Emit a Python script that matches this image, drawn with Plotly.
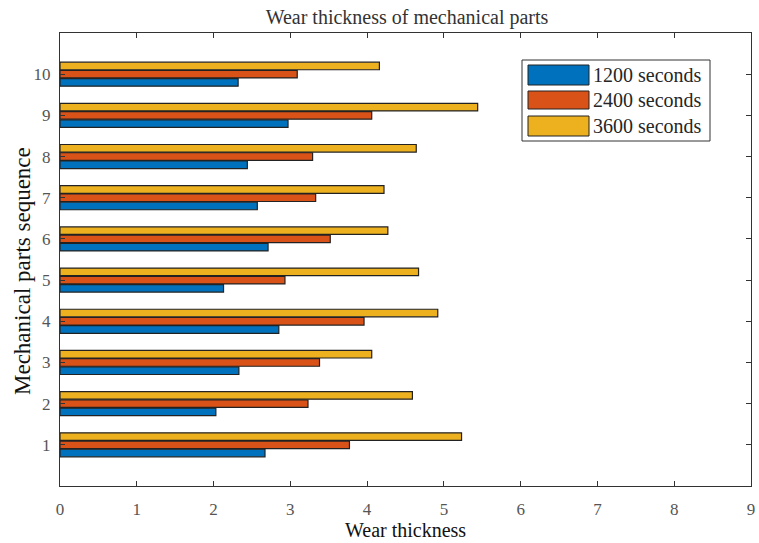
import plotly.graph_objects as go

parts = [1, 2, 3, 4, 5, 6, 7, 8, 9, 10]
s1200 = [2.67, 2.03, 2.33, 2.85, 2.13, 2.71, 2.57, 2.44, 2.97, 2.32]
s2400 = [3.77, 3.23, 3.38, 3.96, 2.93, 3.52, 3.33, 3.29, 4.06, 3.09]
s3600 = [5.23, 4.59, 4.06, 4.92, 4.67, 4.27, 4.22, 4.64, 5.44, 4.16]
names = ["1200 seconds", "2400 seconds", "3600 seconds"]
colors = ["#0072BD", "#D95319", "#EDB120"]

font = "Liberation Serif, Times New Roman, serif"
W, H = 759, 543
L, R, T, B = 60, 8, 33, 57
PW, PH = W - L - R, H - T - B


def px(x):
    return (x - L) / PW


def py(y):
    return (H - B - y) / PH


fig = go.Figure()
for name, vals, c in zip(names, [s1200, s2400, s3600], colors):
    fig.add_trace(go.Bar(
        y=parts, x=vals, name=name, orientation="h",
        marker=dict(color=c, line=dict(color="#222222", width=1.2)),
    ))

# legend drawn as a boxed key like the original
shapes = [dict(type="rect", xref="paper", yref="paper",
               x0=px(522), x1=px(710), y0=py(141), y1=py(60),
               line=dict(color="#333333", width=1), fillcolor="white", layer="above")]
annotations = []
rows = [(65, 85), (91, 109), (116, 136)]
for (y0, y1), name, c in zip(rows, names, colors):
    shapes.append(dict(type="rect", xref="paper", yref="paper",
                       x0=px(528), x1=px(589), y0=py(y1), y1=py(y0),
                       line=dict(color="#222222", width=1), fillcolor=c, layer="above"))
    annotations.append(dict(text=name, xref="paper", yref="paper",
                            x=px(591), y=py((y0 + y1) / 2), xanchor="left", yanchor="middle",
                            showarrow=False, font=dict(family=font, size=20, color="#262626")))

annotations.append(dict(text="Wear thickness", xref="paper", yref="paper",
                        x=px(405), y=py(530), xanchor="center", yanchor="middle",
                        showarrow=False, font=dict(family=font, size=20, color="#111111")))
annotations.append(dict(text="Mechanical parts sequence", xref="paper", yref="paper",
                        x=px(22), y=py(271), xanchor="center", yanchor="middle", textangle=-90,
                        showarrow=False, font=dict(family=font, size=23, color="#111111")))

fig.update_layout(
    width=W, height=H,
    margin=dict(l=L, r=R, t=T, b=B, autoexpand=False),
    paper_bgcolor="white", plot_bgcolor="white",
    barmode="group", bargap=0.4, bargroupgap=0.08,
    title=dict(text="Wear thickness of mechanical parts", x=px(407), xref="paper",
               xanchor="center", y=(H - 17) / H, yanchor="middle",
               font=dict(family=font, size=20, color="#333333")),
    font=dict(family=font, color="#262626"),
    showlegend=False,
    shapes=shapes,
    annotations=annotations,
    xaxis=dict(range=[0, 9], tickvals=list(range(10)), ticks="inside", ticklen=5,
               tickcolor="#333333", showline=True, linecolor="#333333", linewidth=1,
               mirror="ticks", showgrid=False, zeroline=False, automargin=False,
               ticklabelstandoff=8,
               tickfont=dict(family=font, size=17, color="#555555")),
    yaxis=dict(range=[0, 11], tickvals=parts, ticks="inside", ticklen=5,
               tickcolor="#333333", showline=True, linecolor="#333333", linewidth=1,
               mirror="ticks", showgrid=False, zeroline=False, automargin=False,
               ticklabelstandoff=5,
               tickfont=dict(family=font, size=17, color="#555555")),
)

fig.write_html("out.html", config={"displayModeBar": False},
               post_script="document.body.style.margin='0';document.body.style.overflow='hidden';")
